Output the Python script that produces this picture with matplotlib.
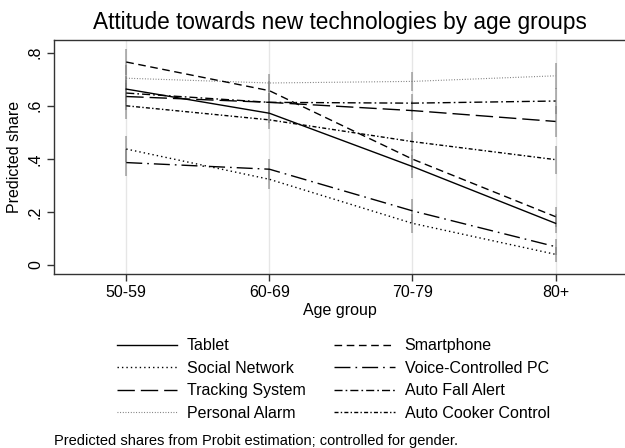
import matplotlib
matplotlib.use("Agg")
import matplotlib.pyplot as plt

plt.rcParams['font.family'] = ['Liberation Sans', 'DejaVu Sans']

age_groups = ['50-59', '60-69', '70-79', '80+']
series = ['Tablet', 'Social Network', 'Tracking System', 'Personal Alarm',
          'Smartphone', 'Voice-Controlled PC', 'Auto Fall Alert', 'Auto Cooker Control']

tablet = [0.663, 0.572, 0.371, 0.157]
social = [0.437, 0.323, 0.157, 0.040]
tracking = [0.635, 0.613, 0.582, 0.541]
alarm = [0.704, 0.686, 0.692, 0.713]
smartphone = [0.765, 0.657, 0.399, 0.182]
voice = [0.386, 0.361, 0.204, 0.069]
fall_alert = [0.648, 0.613, 0.610, 0.618]
cooker = [0.600, 0.547, 0.465, 0.397]

# half width of the confidence intervals
tablet_ci = [0.05, 0.035, 0.045, 0.035]
social_ci = [0.05, 0.035, 0.035, 0.029]
tracking_ci = [0.05, 0.035, 0.035, 0.058]
alarm_ci = [0.05, 0.035, 0.035, 0.05]
smartphone_ci = [0.05, 0.035, 0.04, 0.037]
voice_ci = [0.05, 0.04, 0.045, 0.03]
fall_alert_ci = [0.05, 0.035, 0.035, 0.05]
cooker_ci = [0.05, 0.035, 0.035, 0.053]

values = [tablet, social, tracking, alarm, smartphone, voice, fall_alert, cooker]
cis = [tablet_ci, social_ci, tracking_ci, alarm_ci, smartphone_ci, voice_ci, fall_alert_ci, cooker_ci]

styles = [
    dict(color='black', lw=1.0, ls='-'),
    dict(color='black', lw=1.0, ls=(0, (1.0, 2.2))),
    dict(color='black', lw=1.0, ls=(0, (12.5, 4.3))),
    dict(color='#707070', lw=0.8, ls=(0, (0.8, 1.6))),
    dict(color='black', lw=1.0, ls=(0, (5.5, 3.3))),
    dict(color='black', lw=1.0, ls=(0, (11.5, 3.6, 1.2, 3.6))),
    dict(color='black', lw=1.0, ls=(0, (5.8, 2.2, 1.2, 2.2))),
    dict(color='black', lw=1.0, ls=(0, (2.9, 1.6, 1.0, 1.6))),
]

fig = plt.figure(figsize=(6.25, 4.48), dpi=100)
ax = fig.add_axes([0.0864, 0.3884, 0.9136, 0.5223])

x = list(range(len(age_groups)))
for xi in x:
    ax.axvline(xi, color='#e6e6e6', lw=1.0, zorder=0)

for vals, ci in zip(values, cis):
    lo = [v - c for v, c in zip(vals, ci)]
    hi = [v + c for v, c in zip(vals, ci)]
    ax.vlines(x, lo, hi, color='#7a7a7a', lw=1.4, alpha=0.55, zorder=1)

handles = []
for name, vals, st in zip(series, values, styles):
    h, = ax.plot(x, vals, label=name, zorder=3, **st)
    handles.append(h)

ax.set_xlim(-0.505, 3.485)
ax.set_ylim(-0.034, 0.848)
ax.set_xticks(x)
ax.set_xticklabels(age_groups)
ax.set_yticks([0, 0.2, 0.4, 0.6, 0.8])
ax.set_yticklabels(['0', '.2', '.4', '.6', '.8'], rotation=90, va='center')
ax.tick_params(axis='both', labelsize=11.5, length=5, width=1, color='#333333')
ax.tick_params(axis='x', pad=3)
ax.tick_params(axis='y', pad=3)
ax.spines['right'].set_visible(False)
for s in ['left', 'bottom', 'top']:
    ax.spines[s].set_color('#333333')
    ax.spines[s].set_linewidth(1.0)

ax.set_xlabel('Age group', fontsize=11.5, labelpad=2)
ax.set_ylabel('Predicted share', fontsize=11.5, labelpad=4)
ax.set_title('Attitude towards new technologies by age groups', fontsize=16.3, pad=8)

fig.legend(handles=handles, loc='upper center', bbox_to_anchor=(0.533, 0.277),
           ncol=2, frameon=False, fontsize=11.5, handlelength=3.8,
           handletextpad=0.6, columnspacing=1.8, labelspacing=0.47)

fig.text(0.087, 0.007, 'Predicted shares from Probit estimation; controlled for gender.',
         fontsize=10.5, ha='left', va='baseline')

fig.savefig('out.png', dpi=100)
